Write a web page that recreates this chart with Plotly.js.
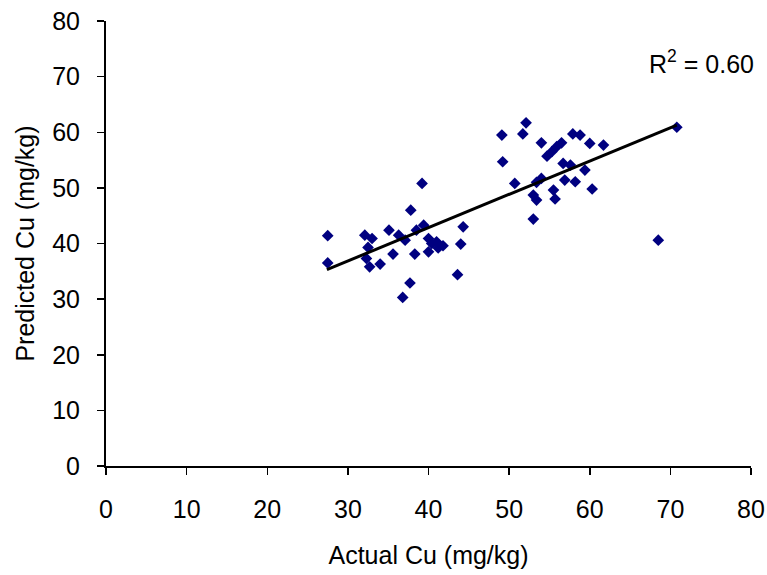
<!DOCTYPE html>
<html><head><meta charset="utf-8">
<script src="https://cdn.plot.ly/plotly-3.0.1.min.js"></script>
<style>html,body{margin:0;padding:0;background:#fff;}</style>
</head><body><div id="chart" style="width:767px;height:575px;"></div>
<script>
var actualCu = [39.2,37.8,27.5,27.5,32.1,33.0,32.5,32.3,32.7,34.0,35.1,36.3,35.6,37.1,38.3,39.4,38.5,37.7,36.8,40.0,40.4,40.0,41.0,41.8,41.2,44.3,44.0,43.6,
  52.1,49.1,51.7,54.0,49.2,50.7,57.9,58.8,60.0,61.7,56.5,55.9,55.3,54.7,56.7,57.6,59.4,54.0,53.4,56.9,58.2,53.0,53.4,55.5,55.7,60.3,53.0,70.8,68.5];
var predictedCu = [50.8,46.0,41.4,36.5,41.5,40.9,39.3,37.3,35.8,36.3,42.4,41.5,38.1,40.6,38.1,43.3,42.4,32.9,30.3,40.9,40.0,38.5,40.3,39.6,39.2,43.0,39.9,34.4,
  61.7,59.5,59.7,58.1,54.7,50.8,59.7,59.5,58.0,57.7,58.1,57.4,56.5,55.7,54.4,54.1,53.2,51.7,51.0,51.4,51.1,48.7,47.8,49.6,48.0,49.8,44.4,60.9,40.6];
var trendX = [27.4, 70.8];
var trendY = [35.3, 61.3];
var xTicks = [0,10,20,30,40,50,60,70,80];
var yTicks = [0,10,20,30,40,50,60,70,80];
var r2Text = 'R<sup>2</sup> = 0.60';

var fam = 'Liberation Sans, Arial, sans-serif';
var traces = [
  {x: actualCu, y: predictedCu, mode:'markers', type:'scatter',
   marker:{symbol:'diamond', size:9, color:'#000080'}, showlegend:false, cliponaxis:false},
  {x: trendX, y: trendY, mode:'lines', type:'scatter',
   line:{color:'#000', width:3}, showlegend:false}
];
var layout = {
  width:767, height:575,
  margin:{l:106, r:16, t:21, b:109},
  paper_bgcolor:'#fff', plot_bgcolor:'#fff',
  font:{family:fam, size:25, color:'#000'},
  xaxis:{range:[0,80], tickvals:xTicks, ticktext:xTicks.map(String), showgrid:false, zeroline:false,
    showline:true, linecolor:'#000', linewidth:2, ticks:'outside', ticklen:7, tickwidth:1.5, tickcolor:'#000',
    ticklabelstandoff:13,
    tickfont:{family:fam, size:25, color:'#000'}, title:{text:'Actual Cu (mg/kg)', font:{family:fam, size:25, color:'#000'}, standoff:24}},
  yaxis:{range:[0,80], tickvals:yTicks, ticktext:yTicks.map(String), showgrid:false, zeroline:false,
    showline:true, linecolor:'#000', linewidth:2, ticks:'outside', ticklen:7, tickwidth:1.5, tickcolor:'#000',
    ticklabelstandoff:12,
    tickfont:{family:fam, size:25, color:'#000'}, title:{text:'Predicted Cu (mg/kg)', font:{family:fam, size:25, color:'#000'}, standoff:10}},
  annotations:[{x:73.9, y:72.6, xref:'x', yref:'y', text:r2Text, showarrow:false, font:{family:fam, size:25, color:'#000'}}]
};
Plotly.newPlot('chart', traces, layout, {staticPlot:true});
</script></body></html>
